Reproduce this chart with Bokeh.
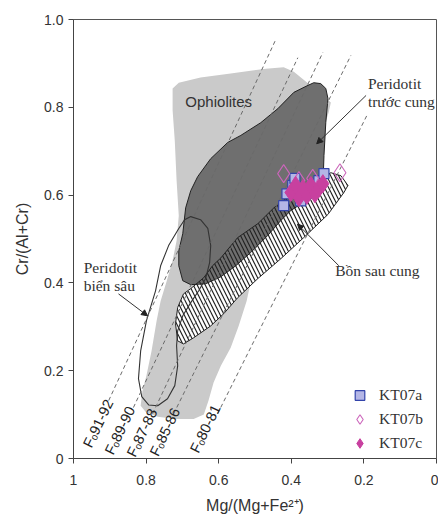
from bokeh.plotting import figure
from bokeh.models import (Range1d, FixedTicker, Legend, LegendItem, Arrow,
                          NormalHead, ColumnDataSource)
from bokeh.core.properties import value
from bokeh.embed import file_html
from bokeh.resources import INLINE

# ---------------- data ----------------
# Ophiolites field (light grey)
ophio_x = [0.727, 0.710, 0.650, 0.567, 0.470, 0.421, 0.393, 0.366, 0.324, 0.291,
           0.297, 0.313, 0.319, 0.374, 0.429, 0.479, 0.512, 0.523, 0.545, 0.567,
           0.594, 0.614, 0.628, 0.641, 0.669, 0.719, 0.768, 0.801, 0.815, 0.810,
           0.799, 0.785, 0.771, 0.760, 0.743, 0.727, 0.716, 0.710, 0.716, 0.721, 0.727]
ophio_y = [0.843, 0.856, 0.868, 0.877, 0.888, 0.891, 0.881, 0.863, 0.834, 0.811,
           0.788, 0.747, 0.610, 0.553, 0.496, 0.446, 0.401, 0.359, 0.302, 0.252,
           0.211, 0.173, 0.132, 0.100, 0.090, 0.090, 0.095, 0.106, 0.120, 0.154,
           0.189, 0.245, 0.314, 0.359, 0.405, 0.451, 0.496, 0.553, 0.633, 0.724, 0.793]

# Forearc peridotite field (dark grey)
forearc_x = [0.354, 0.338, 0.319, 0.305, 0.299, 0.305, 0.310, 0.313, 0.319, 0.360,
             0.401, 0.429, 0.465, 0.512, 0.553, 0.594, 0.636, 0.677, 0.699, 0.710,
             0.710, 0.699, 0.691, 0.677, 0.658, 0.622, 0.575, 0.539, 0.484, 0.437, 0.393]
forearc_y = [0.850, 0.856, 0.854, 0.843, 0.820, 0.765, 0.690, 0.617, 0.603, 0.587,
             0.565, 0.542, 0.508, 0.469, 0.439, 0.414, 0.398, 0.396, 0.405, 0.439,
             0.473, 0.512, 0.571, 0.610, 0.642, 0.683, 0.720, 0.736, 0.765, 0.797, 0.834]

# Back-arc basin field (hatched)
backarc_x = [0.244, 0.255, 0.299, 0.366, 0.429, 0.492, 0.548, 0.586, 0.622, 0.669,
             0.697, 0.713, 0.719, 0.713, 0.697, 0.677, 0.641, 0.617, 0.594, 0.548,
             0.492, 0.448, 0.415, 0.374, 0.332, 0.291, 0.263]
backarc_y = [0.622, 0.606, 0.556, 0.503, 0.455, 0.410, 0.366, 0.330, 0.302, 0.275,
             0.261, 0.268, 0.307, 0.344, 0.375, 0.387, 0.412, 0.439, 0.457, 0.503,
             0.535, 0.571, 0.592, 0.615, 0.633, 0.651, 0.644]

# Abyssal peridotite field (outline only)
abyssal_x = [0.677, 0.650, 0.630, 0.622, 0.625, 0.636, 0.655, 0.677, 0.699, 0.713,
             0.716, 0.713, 0.721, 0.741, 0.768, 0.793, 0.812, 0.821, 0.815, 0.799,
             0.774, 0.760, 0.738, 0.710, 0.694]
abyssal_y = [0.551, 0.544, 0.524, 0.485, 0.446, 0.410, 0.382, 0.355, 0.325, 0.291,
             0.257, 0.211, 0.166, 0.136, 0.120, 0.122, 0.141, 0.182, 0.245, 0.314,
             0.382, 0.439, 0.485, 0.524, 0.544]

# Olivine (Fo) iso-lines
fo_labels = ["F\u2092" + "91-92", "F\u2092" + "89-90", "F\u2092" + "87-88",
             "F\u2092" + "85-86", "F\u2092" + "80-81"]
fo_x0 = [0.903, 0.835, 0.782, 0.724, 0.603]
fo_y0 = [0.132, 0.116, 0.102, 0.102, 0.102]
fo_x1 = [0.443, 0.382, 0.313, 0.236, 0.189]
fo_y1 = [0.954, 0.913, 0.925, 0.918, 0.786]
fo_lx = [0.963, 0.903, 0.842, 0.779, 0.668]
fo_ly = [0.027, 0.011, 0.006, 0.008, 0.015]

# Samples
kt07a_x = [0.421, 0.412, 0.396, 0.390, 0.374, 0.360, 0.341, 0.324, 0.310]
kt07a_y = [0.576, 0.603, 0.622, 0.638, 0.587, 0.603, 0.622, 0.633, 0.649]
kt07b_x = [0.421, 0.379, 0.341, 0.266]
kt07b_y = [0.649, 0.633, 0.638, 0.651]
kt07c_x = [0.401, 0.388, 0.379, 0.368, 0.357, 0.346, 0.335, 0.324, 0.313]
kt07c_y = [0.606, 0.622, 0.594, 0.615, 0.599, 0.622, 0.603, 0.615, 0.626]

# Annotations
field_text = ["Ophiolites"]
field_tx = [0.600]
field_ty = [0.813]
serif_text = ["Peridotit", "tr\u01b0\u1edbc cung", "B\u1ed3n sau cung", "Peridotit", "bi\u1ec3n s\u00e2u"]
serif_x = [0.189, 0.189, 0.279, 0.972, 0.972]
serif_y = [0.854, 0.813, 0.428, 0.435, 0.394]
arrow_x0 = [0.194, 0.269, 0.876]
arrow_y0 = [0.827, 0.439, 0.375]
arrow_x1 = [0.330, 0.383, 0.796]
arrow_y1 = [0.717, 0.534, 0.325]

x_ticks = [0, 0.2, 0.4, 0.6, 0.8, 1]
y_ticks = [0, 0.2, 0.4, 0.6, 0.8, 1]

# ---------------- figure ----------------
p = figure(frame_width=363, frame_height=439,
           x_range=Range1d(1, 0), y_range=Range1d(0, 1),
           output_backend="svg", toolbar_location=None,
           min_border_left=73, min_border_right=2,
           min_border_top=19, min_border_bottom=66)
p.grid.visible = False
p.outline_line_color = "#555555"
p.outline_line_width = 1
p.background_fill_color = "white"
p.border_fill_color = "white"

# fields
p.patch(ophio_x, ophio_y, fill_color="#cacaca", line_color=None)
p.patch(backarc_x, backarc_y, fill_color="white", line_color=None)
p.patch(forearc_x, forearc_y, fill_color="#6f6f6f", line_color="#222222", line_width=1)
p.patch(backarc_x, backarc_y, fill_color=None, line_color="#222222", line_width=1,
        hatch_pattern="left_diagonal_line", hatch_color="#222222",
        hatch_scale=8, hatch_weight=1.2)
p.patch(abyssal_x, abyssal_y, fill_color=None, line_color="#333333", line_width=1.1)

# Fo lines
p.segment(fo_x0, fo_y0, fo_x1, fo_y1, line_color="#6a6a6a", line_width=1,
          line_dash="4 3")
p.text(fo_lx, fo_ly, text=fo_labels, angle=1.12,
       text_font=value("Liberation Sans"), text_font_size="14.5px",
       text_color="#222222", text_align="left", text_baseline="middle")

# annotations
p.text(field_tx, field_ty, text=field_text, text_font=value("Liberation Sans"),
       text_font_size="15px", text_color="#333333",
       text_align="center", text_baseline="middle")
p.text(serif_x, serif_y, text=serif_text, text_font=value("Liberation Serif"),
       text_font_size="15.5px", text_color="#333333",
       text_align="left", text_baseline="middle")
arrow_src = ColumnDataSource(dict(x0=arrow_x0, y0=arrow_y0, x1=arrow_x1, y1=arrow_y1))
p.add_layout(Arrow(x_start="x0", y_start="y0", x_end="x1", y_end="y1",
                   source=arrow_src, line_color="#333333", line_width=1,
                   end=NormalHead(size=6, fill_color="#222222", line_color="#222222")))

# samples
ra = p.scatter(kt07a_x, kt07a_y, marker="square", size=10,
               fill_color="#b4b6e6", line_color="#3344aa", line_width=1.2)
rb = p.scatter(kt07b_x, kt07b_y, marker="diamond", size=18,
               fill_color=None, line_color="#cc66bb", line_width=1.1)
rc = p.scatter(kt07c_x, kt07c_y, marker="diamond", size=18,
               fill_color="#c8409f", line_color="#c8409f", line_width=1)

legend = Legend(items=[LegendItem(label="KT07a", renderers=[ra]),
                       LegendItem(label="KT07b", renderers=[rb]),
                       LegendItem(label="KT07c", renderers=[rc])],
                location=(274, 3), orientation="vertical",
                glyph_width=25, glyph_height=24, label_height=24, spacing=-2,
                label_standoff=7, padding=0, margin=0,
                border_line_color=None, background_fill_alpha=0,
                label_text_font="Liberation Serif", label_text_font_size="15.5px",
                label_text_color="#333333")
p.add_layout(legend)

# axes
for ax in (p.xaxis[0], p.yaxis[0]):
    ax.axis_line_color = "#444444"
    ax.major_tick_line_color = "#444444"
    ax.major_tick_out = 5
    ax.major_tick_in = 0
    ax.minor_tick_line_color = None
    ax.major_label_text_font = "Liberation Sans"
    ax.major_label_text_font_size = "14px"
    ax.major_label_text_color = "#333333"
    ax.axis_label_text_font = "Liberation Sans"
    ax.axis_label_text_font_size = "16px"
    ax.axis_label_text_font_style = "normal"
    ax.axis_label_text_color = "#333333"

p.xaxis.ticker = FixedTicker(ticks=x_ticks)
p.yaxis.ticker = FixedTicker(ticks=y_ticks)
p.xaxis.major_label_overrides = {0: "0", 1: "1"}
p.yaxis.major_label_overrides = {0: "0", 1: "1.0"}
p.xaxis.major_label_standoff = 11
p.yaxis.major_label_standoff = 5
p.xaxis.axis_label = "Mg/(Mg+Fe\u00b2\u207a)"
p.yaxis.axis_label = "Cr/(Al+Cr)"
p.xaxis.axis_label_standoff = 9
p.yaxis.axis_label_standoff = 10

open("out.html", "w").write(file_html(p, INLINE))
